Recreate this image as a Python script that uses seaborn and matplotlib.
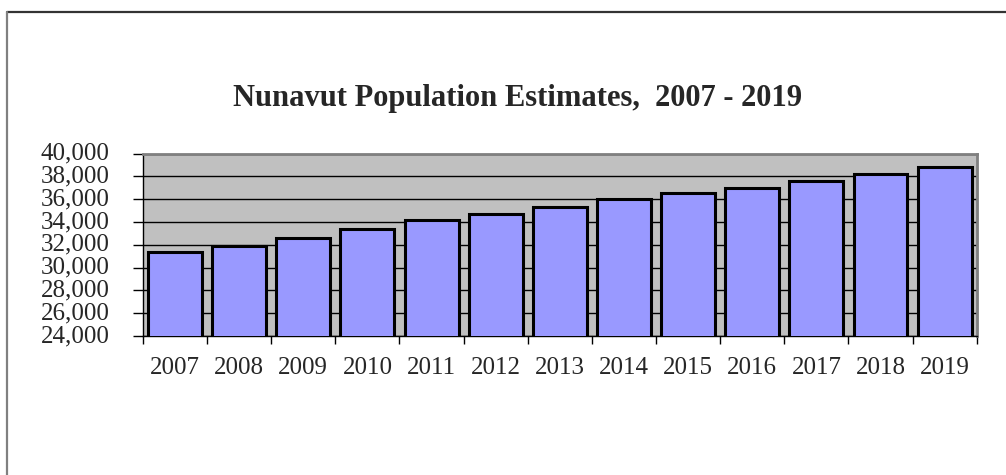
import matplotlib
matplotlib.use("Agg")
import matplotlib.pyplot as plt
from matplotlib.lines import Line2D
from matplotlib.ticker import FuncFormatter, MultipleLocator, FixedLocator
import seaborn as sns
import pandas as pd

years = ["2007", "2008", "2009", "2010", "2011", "2012", "2013",
         "2014", "2015", "2016", "2017", "2018", "2019"]
population = [31400, 31900, 32600, 33400, 34200, 34700, 35300,
              36000, 36500, 37000, 37600, 38200, 38800]
title = "Nunavut Population Estimates,  2007 - 2019"

df = pd.DataFrame({"year": years, "population": population})

sns.set_style("white")
plt.rcParams["font.family"] = ["Liberation Serif", "DejaVu Serif"]

fig = plt.figure(figsize=(10.06, 4.75), dpi=100)
ax = fig.add_axes([0.1421, 0.2926, 0.9709 - 0.1421, 0.6768 - 0.2926])
ax.set_facecolor("#C0C0C0")

sns.barplot(data=df, x="year", y="population", color="#9999FF",
            saturation=1, edgecolor="black", linewidth=2.2,
            width=0.84, ax=ax, zorder=3)

ax.set_ylim(24000, 40000)
ax.set_xlim(-0.5, len(years) - 0.5)
ax.yaxis.set_major_locator(MultipleLocator(2000))
ax.yaxis.set_major_formatter(FuncFormatter(lambda v, p: f"{int(v):,}"))
ax.grid(axis="y", color="black", linewidth=1.0, zorder=1)
ax.set_axisbelow(True)

# category separators on the x axis
ax.xaxis.set_minor_locator(FixedLocator([i - 0.5 for i in range(len(years) + 1)]))
ax.tick_params(axis="x", which="major", length=0, pad=15, labelsize=18)
ax.tick_params(axis="x", which="minor", length=6, width=1, color="black",
               direction="out", bottom=True)
ax.tick_params(axis="y", which="major", length=7, width=1, color="black",
               direction="out", left=True, pad=17, labelsize=18)
for lbl in ax.get_yticklabels():
    lbl.set_verticalalignment("center")

ax.set_xlabel("")
ax.set_ylabel("")

for side in ("top", "right"):
    ax.spines[side].set_color("#808080")
    ax.spines[side].set_linewidth(2)
for side in ("left", "bottom"):
    ax.spines[side].set_color("black")
    ax.spines[side].set_linewidth(1)

fig.text(0.514, 0.792, title, ha="center", va="center",
         fontsize=22, fontweight="bold")

# outer frame lines
fig.add_artist(Line2D([7 / 1006, 1.0], [1 - 11.5 / 475, 1 - 11.5 / 475],
                      transform=fig.transFigure, color="#333333", linewidth=1.6))
fig.add_artist(Line2D([7 / 1006, 7 / 1006], [0.0, 1 - 11.5 / 475],
                      transform=fig.transFigure, color="#808080", linewidth=1.6))

fig.savefig("out.png", dpi=100, facecolor="white")
